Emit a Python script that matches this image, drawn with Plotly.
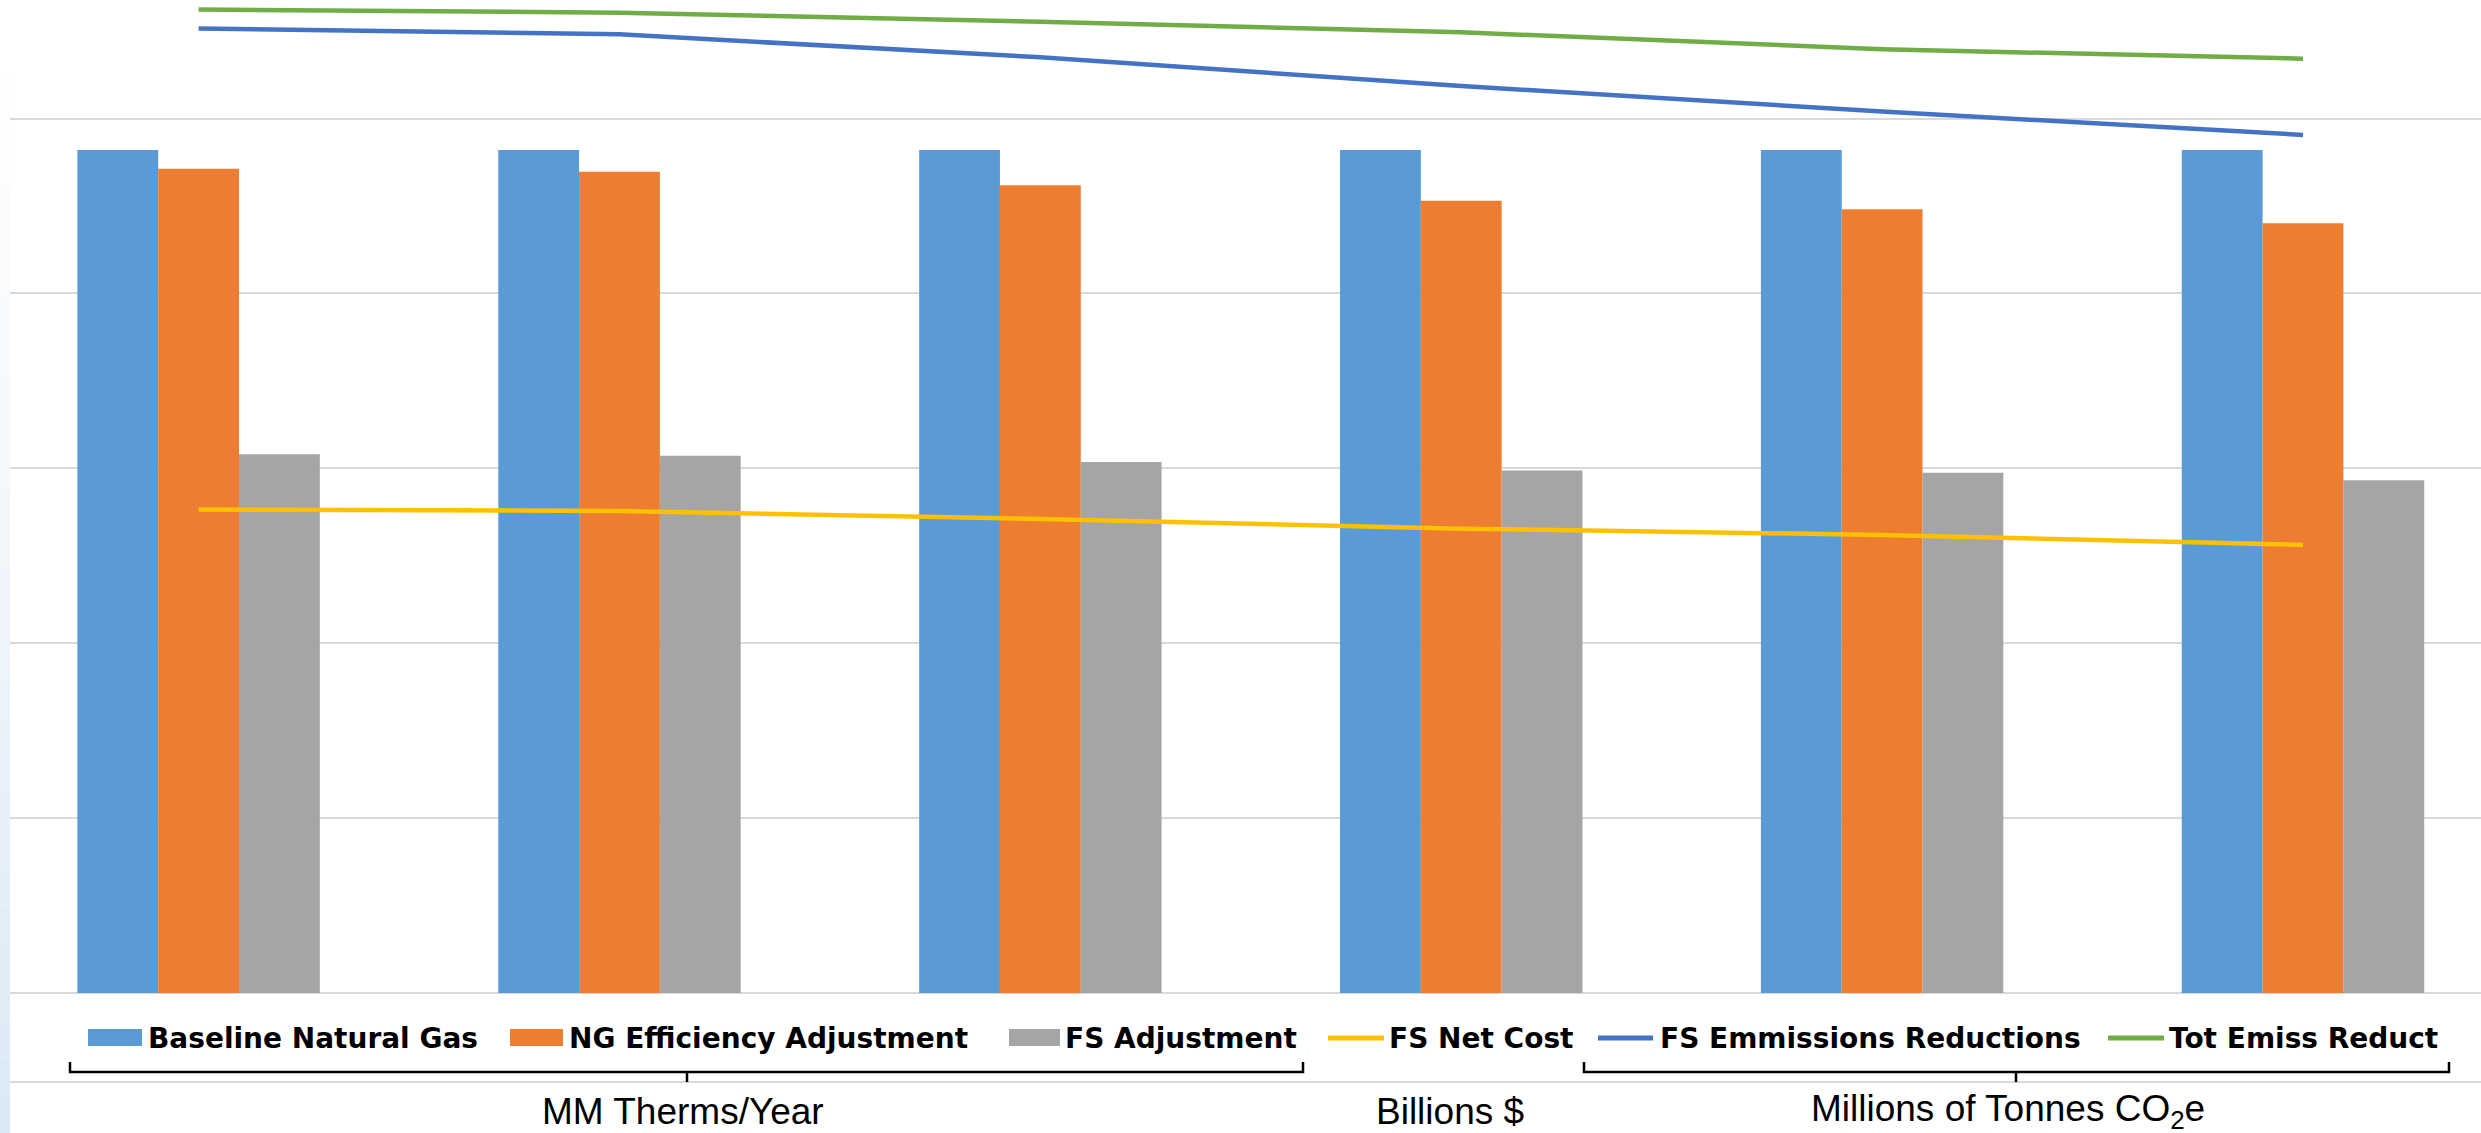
import plotly.graph_objects as go

# ---------------- data ----------------
categories = ["Case 1", "Case 2", "Case 3", "Case 4", "Case 5", "Case 6"]

baseline_ng = [482, 482, 482, 482, 482, 482]
ng_eff_adj = [471.3, 469.6, 461.8, 453.0, 448.1, 440.1]
fs_adj = [308.1, 307.2, 303.6, 298.8, 297.4, 293.1]

fs_net_cost = [27.64, 27.56, 27.10, 26.55, 26.19, 25.62]
fs_emis_red = [55.15, 54.81, 53.50, 51.86, 50.40, 49.06]
tot_emis_red = [56.23, 56.05, 55.53, 54.93, 53.96, 53.42]

group_labels = ["MM Therms/Year", "Billions $", "Millions of Tonnes CO<sub>2</sub>e"]

# ---------------- styling ----------------
W, H = 2481, 1133
C_BLUE = "#5B9BD5"
C_ORANGE = "#ED7D31"
C_GRAY = "#A5A5A5"
C_YELLOW = "#FFC000"
C_LBLUE = "#4472C4"
C_GREEN = "#70AD47"
GRID = "#D9D9D9"


def px(x):
    return x / W


def py(y):
    return 1 - y / H


fig = go.Figure()

bar_series = [
    ("Baseline Natural Gas", baseline_ng, C_BLUE),
    ("NG Efficiency Adjustment", ng_eff_adj, C_ORANGE),
    ("FS Adjustment", fs_adj, C_GRAY),
]
for name, vals, col in bar_series:
    fig.add_trace(go.Bar(x=categories, y=vals, name=name,
                         marker=dict(color=col, line=dict(width=0)),
                         showlegend=False))

line_series = [
    ("FS Net Cost", fs_net_cost, C_YELLOW),
    ("FS Emmissions Reductions", fs_emis_red, C_LBLUE),
    ("Tot Emiss Reduct", tot_emis_red, C_GREEN),
]
for name, vals, col in line_series:
    fig.add_trace(go.Scatter(x=categories, y=vals, name=name, mode="lines",
                             line=dict(color=col, width=4.5),
                             yaxis="y2", showlegend=False))

shapes = []
annotations = []

# left gradient strip
n = 30
for i in range(n):
    t = (i + 0.5) / n
    t2 = t ** 1.3
    r = int(round(255 + (218 - 255) * t2))
    g = int(round(255 + (232 - 255) * t2))
    b = int(round(255 + (245 - 255) * t2))
    shapes.append(dict(type="rect", xref="paper", yref="paper",
                       x0=px(0), x1=px(10), y0=py(H * i / n), y1=py(H * (i + 1) / n),
                       fillcolor=f"rgb({r},{g},{b})", line=dict(width=0), layer="above"))

# light gray line below brackets
shapes.append(dict(type="line", xref="paper", yref="paper",
                   x0=px(10), x1=1, y0=py(1082), y1=py(1082),
                   line=dict(color=GRID, width=2)))

# custom legend
legend_items = [
    ("rect", C_BLUE, 88, 142, 148, "Baseline Natural Gas"),
    ("rect", C_ORANGE, 510, 563, 569, "NG Efficiency Adjustment"),
    ("rect", C_GRAY, 1009, 1060, 1065, "FS Adjustment"),
    ("line", C_YELLOW, 1328, 1384, 1389, "FS Net Cost"),
    ("line", C_LBLUE, 1598, 1653, 1660, "FS Emmissions Reductions"),
    ("line", C_GREEN, 2108, 2164, 2169, "Tot Emiss Reduct"),
]
for kind, col, x0, x1, tx, label in legend_items:
    if kind == "rect":
        shapes.append(dict(type="rect", xref="paper", yref="paper",
                           x0=px(x0), x1=px(x1), y0=py(1046), y1=py(1029),
                           fillcolor=col, line=dict(width=0)))
    else:
        shapes.append(dict(type="line", xref="paper", yref="paper",
                           x0=px(x0), x1=px(x1), y0=py(1038), y1=py(1038),
                           line=dict(color=col, width=5)))
    annotations.append(dict(text=label, xref="paper", yref="paper",
                            x=px(tx - 2), y=py(1038), xanchor="left", yanchor="middle",
                            showarrow=False,
                            font=dict(family="DejaVu Sans", size=28, color="#000000",
                                      weight="bold")))

# brackets
brackets = [(70, 1303, 687), (1584, 2449, 2016)]
for left, right, mid in brackets:
    shapes.append(dict(type="path", xref="paper", yref="paper",
                       path=f"M {px(left)},{py(1062)} L {px(left)},{py(1072)} "
                            f"L {px(right)},{py(1072)} L {px(right)},{py(1062)}",
                       line=dict(color="#000000", width=2.5)))
    shapes.append(dict(type="line", xref="paper", yref="paper",
                       x0=px(mid), x1=px(mid), y0=py(1072), y1=py(1082),
                       line=dict(color="#000000", width=2.5)))

# group labels
label_x = [683, 1450, 2008]
for lab, lx in zip(group_labels, label_x):
    annotations.append(dict(text=lab, xref="paper", yref="paper",
                            x=px(lx), y=py(1111), xanchor="center", yanchor="middle",
                            showarrow=False,
                            font=dict(family="Liberation Sans, Arial", size=37,
                                      color="#000000")))

fig.update_layout(
    width=W, height=H,
    margin=dict(l=0, r=0, t=0, b=0),
    paper_bgcolor="white", plot_bgcolor="white",
    barmode="group", bargap=0.424, bargroupgap=0,
    showlegend=False,
    xaxis=dict(type="category", domain=[px(10), 1], range=[-0.4481, 5.4229],
               showticklabels=False, showgrid=False, zeroline=False,
               showline=False, ticks=""),
    yaxis=dict(domain=[(H - 993) / H, 1], range=[0, 567.75], dtick=100, tick0=0,
               showgrid=True, gridcolor=GRID, gridwidth=2,
               zeroline=True, zerolinecolor=GRID, zerolinewidth=2,
               showticklabels=False, showline=False, ticks=""),
    yaxis2=dict(overlaying="y", range=[0, 56.775], visible=False,
                showgrid=False, zeroline=False),
    shapes=shapes,
    annotations=annotations,
)

fig.write_html("out.html")
